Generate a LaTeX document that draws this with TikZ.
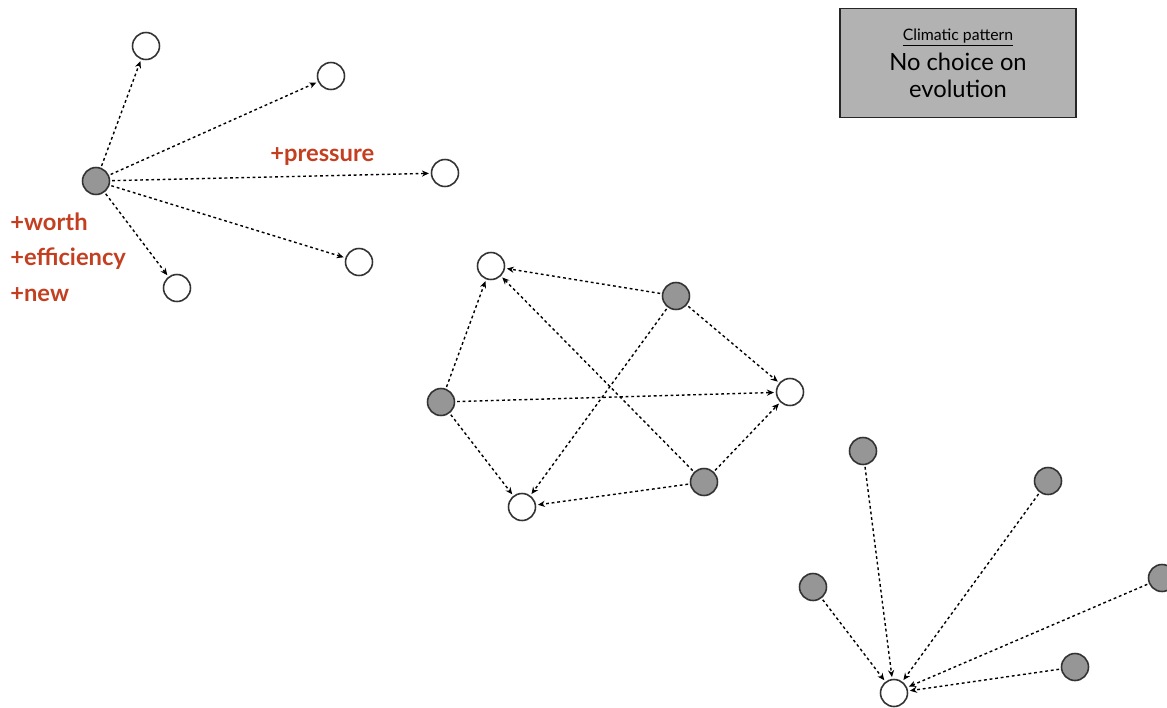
\documentclass[tikz,border=0pt]{standalone}
\usepackage{fontspec}
\setmainfont{Lato}
\usetikzlibrary{arrows.meta}
\definecolor{nodegray}{RGB}{150,150,150}
\definecolor{boxgray}{RGB}{178,178,178}
\definecolor{labelred}{RGB}{196,62,32}
\begin{document}
\begin{tikzpicture}[x=0.02cm,y=-0.02cm,
    firm/.style={draw=black!80,circle,line width=0.9pt,minimum size=0.54cm,inner sep=0pt,fill=nodegray},
    free/.style={draw=black!80,circle,line width=0.9pt,minimum size=0.54cm,inner sep=0pt,fill=white},
    flow/.style={-{Stealth[length=4pt,width=3.5pt]},line width=0.8pt,dash pattern=on 1.6pt off 1.6pt,shorten >=1pt,shorten <=1pt},
    gain/.style={text=labelred,font=\bfseries\fontsize{13.5}{16}\selectfont,anchor=west,inner sep=0pt}]
\useasboundingbox (0,0) rectangle (1167,707);

% the box in the corner
\node[draw=black!85,fill=boxgray,line width=1pt,minimum width=4.72cm,minimum height=2.18cm,align=center] (note) at (958,63)
    {{\fontsize{9}{11}\selectfont\underline{Climatic pattern}}\\[3pt]
     {\fontsize{13.5}{17}\selectfont No choice on}\\[3pt]{\fontsize{13.5}{17}\selectfont evolution}};

% one firm spreading out
\node[firm] (src) at (96,181) {};
\foreach \n/\x/\y in {t1/146/46, t2/331/76, t3/445/173, t4/359/262, t5/177/288}{% targets
    \node[free] (\n) at (\x,\y) {};
    \draw[flow] (src) -- (\n);}
\node[gain] (pres) at (270,157) {+pressure};
\node[gain] (worth) at (10,222) {+worth};
\node[gain] (eff) at (10,259) {+efficiency};
\node[gain] (new) at (10,295) {+new};

% the web in the middle
\node[free] (w1) at (491,266) {};
\node[free] (w2) at (790,392) {};
\node[free] (w3) at (522,507) {};
\node[firm] (g1) at (676,296) {};
\node[firm] (g2) at (441,402) {};
\node[firm] (g3) at (704,482) {};
\foreach \g in {g1,g2,g3}{% every firm to every free one
    \foreach \w in {w1,w2,w3}{
        \draw[flow] (\g) -- (\w);}}

% many firms onto one
\node[free] (sink) at (894,693) {};
\foreach \n/\x/\y in {s1/863/451, s2/1048/481, s3/813/587, s4/1162/578, s5/1075/667}{%
    \node[firm] (\n) at (\x,\y) {};
    \draw[flow] (\n) -- (sink);}

\end{tikzpicture}
\end{document}
